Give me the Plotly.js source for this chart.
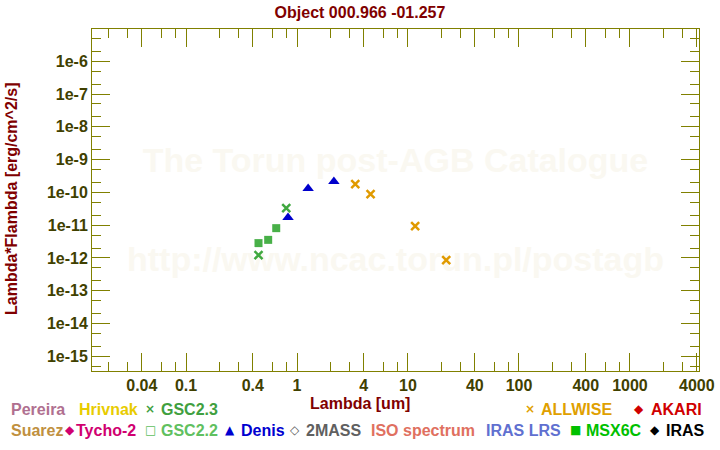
<!DOCTYPE html>
<html>
<head>
<meta charset="utf-8">
<script src="https://cdn.plot.ly/plotly-3.0.1.min.js"></script>
<style>html,body{margin:0;padding:0;background:#fff;}#chart{width:720px;height:450px;}</style>
</head>
<body>
<div id="chart"></div>
<script>
// ---- data (wavelength in um, lambda*F_lambda in erg/cm^2/s) ----
var gsc23Lambda = [0.45, 0.80];
var gsc23Flux   = [1.22e-12, 3.30e-11];
var gsc22Lambda = [0.45, 0.55, 0.65];
var gsc22Flux   = [2.83e-12, 3.56e-12, 8.1e-12];
var denisLambda = [0.83, 1.26, 2.15];
var denisFlux   = [1.71e-11, 1.31e-10, 2.13e-10];
var allwiseLambda = [3.35, 4.6, 11.6, 22.1];
var allwiseFlux   = [1.78e-10, 8.8e-11, 9.3e-12, 8.6e-13];

var xTickVals = [0.04, 0.1, 0.4, 1, 4, 10, 40, 100, 400, 1000, 4000];
var xTickText = ["0.04", "0.1", "0.4", "1", "4", "10", "40", "100", "400", "1000", "4000"];
var xMinorVals = [0.02,0.03,0.06,0.08,0.2,0.3,0.6,0.8,2,3,6,8,20,30,60,80,200,300,600,800,2000,3000];
var yTickVals = [1e-6,1e-7,1e-8,1e-9,1e-10,1e-11,1e-12,1e-13,1e-14,1e-15];
var yTickText = ["1e-6","1e-7","1e-8","1e-9","1e-10","1e-11","1e-12","1e-13","1e-14","1e-15"];
var yMinorVals = [5e-6,2e-6,5e-7,2e-7,5e-8,2e-8,5e-9,2e-9,5e-10,2e-10,5e-11,2e-11,5e-12,2e-12,5e-13,2e-13,5e-14,2e-14,5e-15,2e-15,5e-16];

var titleText = "Object 000.966 -01.257";
var xTitle = "Lambda [um]";
var yTitle = "Lambda*Flambda [erg/cm^2/s]";
var watermarkLines = ["The Torun post-AGB Catalogue", "http://www.ncac.torun.pl/postagb"];

// legend entries: [symbol, text, color, row, symbolCenterPx, textLeftPx]
var legendItems = [
  ["", "Pereira", "#b07090", 0, null, 10],
  ["", "Hrivnak", "#e8cc00", 0, null, 78],
  ["\u00d7", "GSC2.3", "#40a040", 0, 150, 160],
  ["\u00d7", "ALLWISE", "#e0a000", 0, 530, 540],
  ["\u25c6", "AKARI", "#d00000", 0, 639, 650],
  ["", "Suarez", "#c09040", 1, null, 10],
  ["\u25c6", "Tycho-2", "#d00070", 1, 70, 75],
  ["\u25a1", "GSC2.2", "#60c060", 1, 150.5, 160],
  ["\u25b2", "Denis", "#0000d0", 1, 230, 240],
  ["\u25c7", "2MASS", "#606060", 1, 295, 305],
  ["", "ISO spectrum", "#e07060", 1, null, 370],
  ["", "IRAS LRS", "#6070d0", 1, null, 485],
  ["\u25a0", "MSX6C", "#00c000", 1, 575, 585],
  ["\u25c6", "IRAS", "#000000", 1, 655, 665]
];

var FONT = "Liberation Sans, Arial, Helvetica, sans-serif";
var L = 92, R = 21, T = 29, B = 79, W = 720, H = 450;
var pw = W - L - R, ph = H - T - B;
var XR = [-1.847, 3.622], YR = [-15.45, -5.015];
function px2x(px){ return (px - L) / pw; }
function px2y(py){ return (H - B - py) / ph; }
// pixel -> data (log axes), used only for the background watermark text
function pxDataX(px){ return Math.pow(10, XR[0] + (px - L) / pw * (XR[1] - XR[0])); }
function pxDataY(py){ return Math.pow(10, YR[1] - (py - T) / ph * (YR[1] - YR[0])); }

var traces = [
  {x: [pxDataX(L + pw / 2), pxDataX(L + pw / 2)], y: [pxDataY(163), pxDataY(262)], mode: "text",
   text: watermarkLines, textposition: "middle center", hoverinfo: "skip", cliponaxis: false,
   textfont: {family: FONT, size: 34, color: "#faf8f1", weight: "bold"}},
  {x: gsc23Lambda, y: gsc23Flux, mode: "markers", name: "GSC2.3",
   marker: {symbol: "x-thin-open", size: 8, color: "#40a840", line: {width: 2.5, color: "#40a840"}}},
  {x: gsc22Lambda, y: gsc22Flux, mode: "markers", name: "GSC2.2",
   marker: {symbol: "square", size: 8, color: "#48b048"}},
  {x: denisLambda, y: denisFlux, mode: "markers", name: "Denis",
   marker: {symbol: "triangle-up", size: 10, color: "#0000cc"}},
  {x: allwiseLambda, y: allwiseFlux, mode: "markers", name: "ALLWISE",
   marker: {symbol: "x-thin-open", size: 8, color: "#e09a00", line: {width: 2.5, color: "#e09a00"}}}
];

var annotations = [];
// axis titles
annotations.push({xref: "paper", yref: "paper", x: px2x(360), y: px2y(403), text: xTitle, showarrow: false,
  font: {family: FONT, size: 16, color: "#800000", weight: "bold"}, xanchor: "center", yanchor: "middle"});
annotations.push({xref: "paper", yref: "paper", x: px2x(11), y: px2y(199), text: yTitle, showarrow: false, textangle: -90,
  font: {family: FONT, size: 16, color: "#800000", weight: "bold"}, xanchor: "center", yanchor: "middle"});
// legend
legendItems.forEach(function(it){
  var ypx = it[3] === 0 ? 409 : 430;
  if (it[0]) {
    annotations.push({xref: "paper", yref: "paper", x: px2x(it[4]), y: px2y(ypx), text: it[0], showarrow: false,
      font: {family: "DejaVu Sans, sans-serif", size: 12, color: it[2], weight: "bold"}, xanchor: "center", yanchor: "middle"});
  }
  annotations.push({xref: "paper", yref: "paper", x: px2x(it[5]), y: px2y(ypx), text: it[1], showarrow: false,
    font: {family: FONT, size: 16, color: it[2], weight: "bold"}, xanchor: "left", yanchor: "middle", xshift: -1});
});

var axisCommon = {
  showline: true, linecolor: "#808000", linewidth: 1, mirror: "allticks",
  ticks: "inside", ticklen: 18, tickwidth: 1, tickcolor: "#808000",
  showgrid: false, zeroline: false, tickmode: "array",
  tickfont: {family: FONT, size: 16, color: "#404000", weight: "bold"}
};

var layout = {
  width: W, height: H,
  margin: {l: L, r: R, t: T, b: B, pad: 0},
  paper_bgcolor: "#ffffff", plot_bgcolor: "#ffffff",
  showlegend: false,
  title: {text: titleText, x: 0.5, xref: "container", y: 1 - 12.5 / H, yref: "container", yanchor: "middle",
    font: {family: FONT, size: 16, color: "#800000", weight: "bold"}},
  xaxis: Object.assign({}, axisCommon, {
    type: "log", range: XR, tickvals: xTickVals, ticktext: xTickText,
    minor: {tickmode: "array", tickvals: xMinorVals, ticks: "inside", ticklen: 9, tickcolor: "#808000", tickwidth: 1, showgrid: false}
  }),
  yaxis: Object.assign({}, axisCommon, {
    type: "log", range: YR, tickvals: yTickVals, ticktext: yTickText,
    minor: {tickmode: "array", tickvals: yMinorVals, ticks: "inside", ticklen: 9, tickcolor: "#808000", tickwidth: 1, showgrid: false}
  }),
  annotations: annotations
};

Plotly.newPlot("chart", traces, layout, {displayModeBar: false, staticPlot: true});
</script>
</body>
</html>
